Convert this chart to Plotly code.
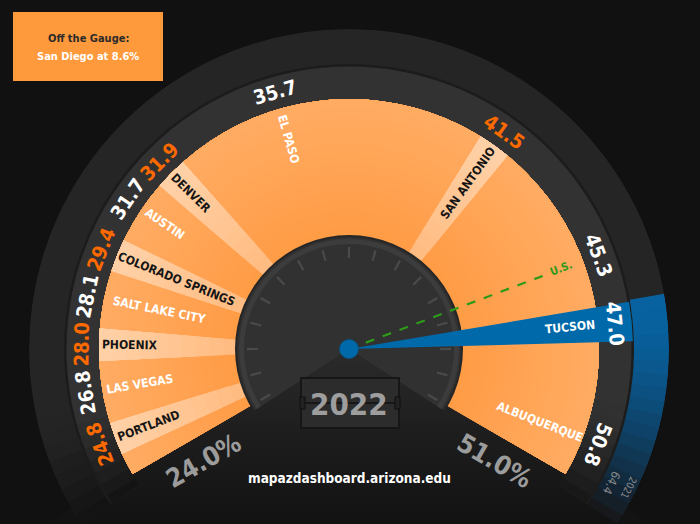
import math
import plotly.graph_objects as go

# ------------------------------------------------------------------ data
cities = ["PORTLAND", "LAS VEGAS", "PHOENIX", "SALT LAKE CITY", "COLORADO SPRINGS",
          "AUSTIN", "DENVER", "EL PASO", "SAN ANTONIO", "TUCSON", "ALBUQUERQUE"]
values = [24.8, 26.8, 28.0, 28.1, 29.4, 31.7, 31.9, 35.7, 41.5, 47.0, 50.8]
us_label = "U.S."
us_value = 45.3
highlight_city = "TUCSON"
highlight_prev_year = "2021"
highlight_prev_value = 64.4
gauge_min = 24.0
gauge_max = 51.0
year_label = "2022"
off_gauge_title = "Off the Gauge:"
off_gauge_city = "San Diego"
off_gauge_value = 8.6
source_text = "mapazdashboard.arizona.edu"

# ------------------------------------------------------------------ layout constants
W, H = 700, 524
CX, CY = 349, 349                      # gauge centre in page pixels
R_OUT, R_MID, R_GAUGE, R_DIAL = 320, 284, 250, 112
START, SPAN = 210.0, 240.0             # gauge starts at 210 deg and sweeps 240 deg clockwise
SECTOR = (-33, 213)
FONT = "DejaVu Sans Condensed, Liberation Sans Narrow, Roboto, sans-serif"

BLUE = "#0069AA"
GREEN = "#2E9A1A"
LABEL_ORANGE = "#FF6A00"
BG = (17, 17, 17)


def gauge_deg(v):
    return (v - gauge_min) / (gauge_max - gauge_min) * SPAN


# ------------------------------------------------------------------ marks, spread apart for legibility
marks = [dict(name=c, v=v, kind="hl" if c == highlight_city else "city") for c, v in zip(cities, values)]
marks.append(dict(name=us_label, v=us_value, kind="us"))
marks.sort(key=lambda m: m["v"])

MIN_GAP, EDGE = 10.5, 9.0
pos = [gauge_deg(m["v"]) for m in marks]
for _ in range(600):
    for i in range(len(pos) - 1):
        g = pos[i + 1] - pos[i]
        if g < MIN_GAP:
            s = (MIN_GAP - g) / 2
            pos[i] -= s
            pos[i + 1] += s
    pos = [min(max(p, EDGE), SPAN - EDGE) for p in pos]
for m, p in zip(marks, pos):
    m["theta"] = START - p

k = 0
for m in marks:
    if m["kind"] == "city":
        m["stripe"] = (k % 2 == 0)
        k += 1
    else:
        m["stripe"] = False


def xy(r, th):
    return r * math.cos(math.radians(th)), r * math.sin(math.radians(th))


def rgb(c):
    return "rgb(%d,%d,%d)" % tuple(int(round(x)) for x in c)


def mix(c0, c1, f):
    return tuple(c0[j] + (c1[j] - c0[j]) * f for j in range(3))


def ring(base, top, color, theta=90, width=360):
    return go.Barpolar(theta=[theta], width=[width], base=[base], r=[top - base],
                       marker=dict(color=color, line=dict(width=0)),
                       hoverinfo="skip", showlegend=False)


fig = go.Figure()

# ---- lower dark base (cartesian, below polar)
rr = (H - CY) / math.sin(math.radians(30))
lx, ly = xy(rr, 210)
fig.add_trace(go.Scatter(x=[0, lx, -lx, 0], y=[0, ly, ly, 0], mode="lines", fill="toself",
                         line=dict(width=0),
                         fillgradient=dict(type="vertical",
                                           colorscale=[[0, "#121212"], [0.5, "#1d1d1d"], [1, "#2b2b2b"]]),
                         hoverinfo="skip", showlegend=False))

# ---- rings with faded ends
RING_OUT, RING_MID = (37, 37, 37), (50, 50, 50)
fig.add_trace(ring(R_MID, R_OUT, rgb(RING_OUT)))
fig.add_trace(ring(R_GAUGE, R_MID, rgb(RING_MID)))
NF = 8
for i in range(NF):
    f = ((i + 0.5) / NF) ** 1.3
    wl = (SECTOR[1] + 1 - 193) / NF
    thl = 193 + wl * (i + 0.5)
    fig.add_trace(ring(R_MID, R_OUT, rgb(mix(RING_OUT, BG, f)), theta=thl, width=wl + 0.3))
    fig.add_trace(ring(R_GAUGE, R_MID, rgb(mix(RING_MID, BG, f)), theta=thl, width=wl + 0.3))
    wr = (-12 - (SECTOR[0] - 1)) / NF
    thr = -12 - wr * (i + 0.5)
    fig.add_trace(ring(R_GAUGE, R_MID, rgb(mix(RING_MID, BG, f * 0.85)), theta=thr, width=wr + 0.3))
fig.add_trace(ring(R_MID - 1.5, R_MID + 1, "#1c1c1c", theta=90, width=250))

# ---- orange gauge body with a gentle radial gradient
NG = 16
for i in range(NG):
    r0 = R_DIAL - 10 + (R_GAUGE - R_DIAL + 10) * i / NG
    c = mix((255, 155, 68), (255, 171, 98), i / (NG - 1))
    fig.add_trace(ring(0 if i == 0 else r0, R_GAUGE, rgb(c), theta=START - SPAN / 2, width=SPAN))

# ---- stripes (lighter toward the rim)
st = [m["theta"] for m in marks if m["stripe"]]
NS = 10
for i in range(NS):
    r0 = 0 if i == 0 else R_DIAL + (R_GAUGE - R_DIAL) * i / NS
    c = rgb(mix((255, 188, 130), (255, 208, 166), i / (NS - 1)))
    fig.add_trace(go.Barpolar(theta=st, width=[7.5] * len(st), base=[r0] * len(st),
                              r=[R_GAUGE - r0] * len(st),
                              marker=dict(color=c, line=dict(width=0)), hoverinfo="skip", showlegend=False))

# ---- highlighted city: outer blue arc fading out
hl = [m for m in marks if m["kind"] == "hl"][0]
a0, a1 = hl["theta"] + 4.2, SECTOR[0] - 1
N = 18
w = (a0 - a1) / N
for i in range(N):
    t = i / (N - 1)
    col = rgb(mix((8, 98, 160), (22, 24, 28), t ** 1.6))
    fig.add_trace(ring(R_MID + 1, R_OUT, col, theta=a0 - w * (i + 0.5), width=w + 0.4))

# ---- dial
fig.add_trace(ring(0, R_DIAL + 2, "#262626"))
fig.add_trace(ring(0, R_DIAL, "#313131"))
fig.add_trace(ring(R_DIAL - 7, R_DIAL - 2, "#3c3c3c"))
ticks = [START - 15 * i for i in range(17)]
fig.add_trace(go.Barpolar(theta=ticks, width=[1.3] * len(ticks), base=[R_DIAL - 21] * len(ticks),
                          r=[11] * len(ticks), marker=dict(color="#4a4a4a", line=dict(width=0)),
                          hoverinfo="skip", showlegend=False))

# ---- highlighted needle
fig.add_trace(go.Barpolar(theta=[hl["theta"]], width=[8.0], base=[0], r=[R_MID],
                          marker=dict(color=BLUE, line=dict(width=0)), hoverinfo="skip", showlegend=False))

# ---- U.S. reference line
us = [m for m in marks if m["kind"] == "us"][0]
fig.add_trace(go.Scatterpolar(r=[0, 215], theta=[us["theta"], us["theta"]], mode="lines",
                              line=dict(color=GREEN, width=2.2, dash="dash"),
                              hoverinfo="skip", showlegend=False))

# ---- hub
fig.add_trace(go.Scatterpolar(r=[0], theta=[0], mode="markers",
                              marker=dict(size=19, color=BLUE, line=dict(color="#0b4f7e", width=1)),
                              hoverinfo="skip", showlegend=False))

# ------------------------------------------------------------------ annotations
ann = []


def text(x, y, s, size, color, angle=0, bold=True):
    ann.append(dict(x=x, y=y, xref="x", yref="y", text=("<b>%s</b>" % s) if bold else s,
                    showarrow=False, textangle=angle, xanchor="center", yanchor="middle",
                    font=dict(family=FONT, size=size, color=color)))


for m in marks:
    th = m["theta"]
    vx, vy = xy(267, th)
    vcol = LABEL_ORANGE if m["stripe"] else "white"
    text(vx, vy, "%.1f" % m["v"], 20, vcol, angle=90 - th, bold=True)
    fs = 11 if m["kind"] == "us" else 12
    L = len(m["name"]) * 0.60 * fs
    rc = (R_GAUGE - 6 if m["kind"] != "us" else 240) - L / 2
    nx, ny = xy(rc, th)
    ang = (180 - th) if th > 90 else -th
    ncol = GREEN if m["kind"] == "us" else ("#151515" if m["stripe"] else "white")
    text(nx, ny, m["name"], fs, ncol, angle=ang)

# scale end labels
x0_, y0_ = xy(184, START + 7.5)
text(x0_, y0_, "%.1f%%" % gauge_min, 26, "#9c9c9c", angle=-(START - 180), bold=True)
x1_, y1_ = xy(184, START - SPAN - 7.5)
text(x1_, y1_, "%.1f%%" % gauge_max, 26, "#9c9c9c", angle=(START - 180), bold=True)

# previous-year note at the end of the blue arc
pa = START - SPAN + 3
px_, py_ = xy(294, pa)
text(px_, py_, "%.1f" % highlight_prev_value, 12, "#8a8a8a", angle=90 - pa, bold=False)
qx_, qy_ = xy(312, pa + 0.6)
text(qx_, qy_, highlight_prev_year, 10, "#8a8a8a", angle=90 - pa, bold=False)

# header box texts
text(-261, 311, off_gauge_title, 11, "#2a2a2a")
text(-261, 293, "%s at %.1f%%" % (off_gauge_city, off_gauge_value), 11, "white")

# year box and source
text(0, -55, year_label, 31, "#9e9e9e")
text(0, -129, source_text, 13.5, "white")

shapes = [
    dict(type="rect", xref="x", yref="y", x0=-336, x1=-186, y0=268, y1=337,
         fillcolor="#FF9A3C", line=dict(width=0), layer="above"),
    dict(type="rect", xref="x", yref="y", x0=-48, x1=50, y0=-79, y1=-29,
         fillcolor="#2c2c2c", line=dict(color="#161616", width=2), layer="above"),
    dict(type="line", xref="x", yref="y", x0=-46, x1=48, y0=-54, y1=-54,
         line=dict(color="#111111", width=1.5), layer="above"),
    dict(type="rect", xref="x", yref="y", x0=-49, x1=-44, y0=-60, y1=-48,
         fillcolor="#222222", line=dict(color="#0e0e0e", width=1), layer="above"),
    dict(type="rect", xref="x", yref="y", x0=46, x1=51, y0=-60, y1=-48,
         fillcolor="#222222", line=dict(color="#0e0e0e", width=1), layer="above"),
]

# ------------------------------------------------------------------ layout
s = -min(math.sin(math.radians(SECTOR[0])), math.sin(math.radians(SECTOR[1])), 0)
pdx = [(CX - R_OUT) / W, (CX + R_OUT) / W]
pdy = [(H - (CY + R_OUT * s)) / H, (H - (CY - R_OUT)) / H]

fig.update_layout(
    width=W, height=H, margin=dict(l=0, r=0, t=0, b=0),
    paper_bgcolor="#111111", plot_bgcolor="rgba(0,0,0,0)",
    xaxis=dict(range=[-CX, W - CX], domain=[0, 1], visible=False, fixedrange=True),
    yaxis=dict(range=[-(H - CY), CY], domain=[0, 1], visible=False, fixedrange=True),
    polar=dict(domain=dict(x=pdx, y=pdy), sector=list(SECTOR), hole=0,
               bgcolor="rgba(0,0,0,0)", barmode="overlay",
               radialaxis=dict(range=[0, R_OUT], visible=False),
               angularaxis=dict(visible=False, rotation=0, direction="counterclockwise")),
    annotations=ann, shapes=shapes, showlegend=False,
)

fig.write_html("out.html", config={"displayModeBar": False},
               post_script="document.body.style.margin='0';document.body.style.background='#111111';")
